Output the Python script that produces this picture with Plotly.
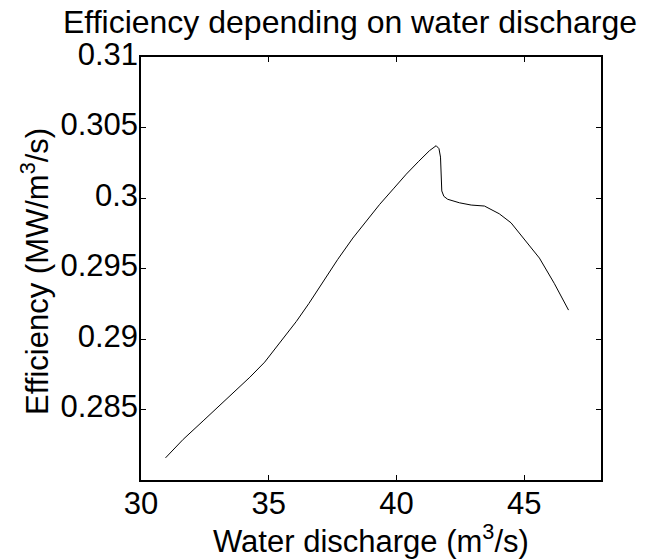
import plotly.graph_objects as go

# Water discharge (m^3/s) and efficiency (MW per m^3/s)
discharge = [30.96, 31.65, 32.43, 33.48, 34.26, 34.84, 35.56, 36.08, 36.57,
             37.12, 37.70, 38.29, 38.80, 39.34, 39.90, 40.38, 40.85, 41.29,
             41.55, 41.66, 41.72, 41.74, 41.77, 41.85, 42.00, 42.46, 42.92,
             43.44, 44.02, 44.48, 45.07, 45.59, 46.17, 46.73]
efficiency = [0.28157, 0.28288, 0.28419, 0.28598, 0.28729, 0.28836, 0.29002,
              0.29125, 0.29252, 0.29407, 0.29565, 0.29716, 0.29832, 0.29955,
              0.30070, 0.30169, 0.30257, 0.30336, 0.30371, 0.30350, 0.30290,
              0.30150, 0.30050, 0.30012, 0.29991, 0.29966, 0.29950, 0.29943,
              0.29888, 0.29824, 0.29693, 0.29574, 0.29395, 0.29205]

x_ticks = [30, 35, 40, 45]
y_ticks = [0.285, 0.29, 0.295, 0.3, 0.305, 0.31]

FONT = "Liberation Sans, Arial, sans-serif"
SIZE = 31

fig = go.Figure(
    go.Scatter(x=discharge, y=efficiency, mode="lines",
               line=dict(color="black", width=1))
)

axis_common = dict(
    showgrid=False, zeroline=False, showline=True, linecolor="black",
    linewidth=1.5, mirror="allticks", ticks="inside", ticklen=5,
    tickcolor="black", tickwidth=1, ticklabelstandoff=-5,
    tickfont=dict(family=FONT, size=SIZE, color="black"),
)

fig.update_xaxes(range=[30, 48], tickvals=x_ticks,
                 ticktext=[f"{v:g}" for v in x_ticks], **axis_common)
fig.update_yaxes(range=[0.28, 0.31], tickvals=y_ticks,
                 ticktext=[f"{v:g}" for v in y_ticks],
                 ticklabelshift=-3, **axis_common)

fig.update_layout(
    width=654, height=559,
    margin=dict(l=141, r=53, t=57, b=79),
    paper_bgcolor="white", plot_bgcolor="white",
    showlegend=False,
    annotations=[
        dict(text="Efficiency depending on water discharge",
             xref="paper", yref="paper", x=0.454, y=1.0, yshift=15,
             xanchor="center", yanchor="bottom", showarrow=False,
             font=dict(family=FONT, size=32, color="black")),
        dict(text="Water discharge (m<sup>3</sup>/s)",
             xref="paper", yref="paper", x=0.5, y=0, yshift=-37,
             xanchor="center", yanchor="top", showarrow=False,
             font=dict(family=FONT, size=SIZE, color="black")),
        dict(text="Efficiency (MW/m<sup>3</sup>/s)",
             xref="paper", yref="paper", x=0, xshift=-106, y=0.492,
             xanchor="center", yanchor="middle", textangle=-90,
             showarrow=False,
             font=dict(family=FONT, size=SIZE, color="black")),
    ],
)

fig.write_html("out.html")
